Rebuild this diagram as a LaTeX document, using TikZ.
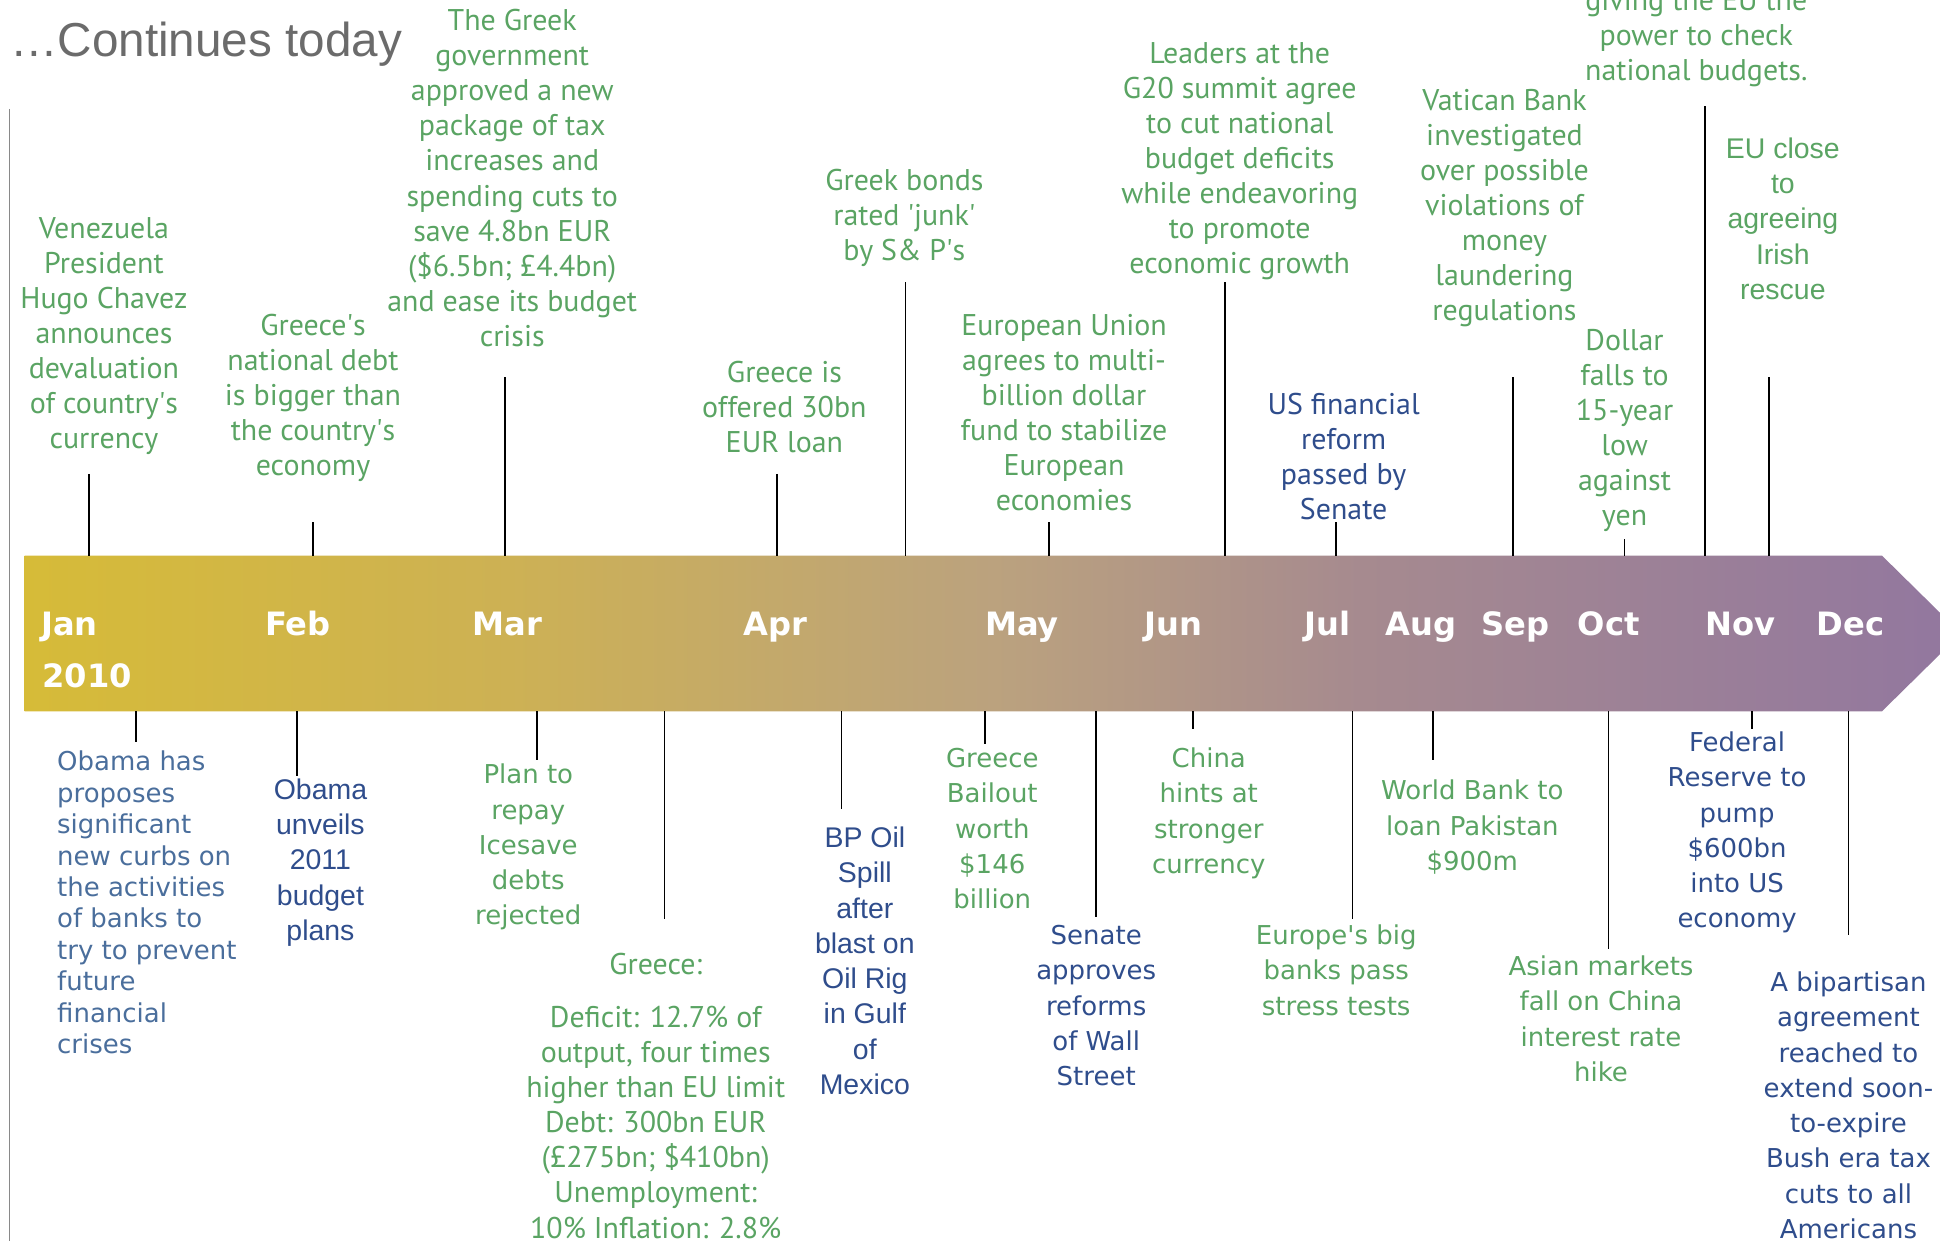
\documentclass[tikz,border=0pt]{standalone}
\usepackage{fontspec}
\newfontfamily\fA{PT Sans}
\newfontfamily\fB{DejaVu Sans}
\newfontfamily\fC{Liberation Sans}
\newcommand\myq{\textquotesingle}
\definecolor{grn}{HTML}{5AA463}
\definecolor{blu}{HTML}{2F4D8C}
\definecolor{blu2}{HTML}{4A6E9C}
\definecolor{ttl}{HTML}{6B6B6B}
\definecolor{c0}{HTML}{D6BB38}
\definecolor{c1}{HTML}{CDB154}
\definecolor{c2}{HTML}{BBA27E}
\definecolor{c3}{HTML}{A68A8F}
\definecolor{c4}{HTML}{92779F}
\pgfdeclarehorizontalshading{bandshade}{100bp}{color(0bp)=(c0); color(25bp)=(c0); color(37.5bp)=(c1); color(50bp)=(c2); color(59.5bp)=(c3); color(75bp)=(c4); color(100bp)=(c4)}
\tikzset{
  txt/.style={inner sep=0pt, anchor=base, align=center},
  ga/.style={txt, font=\fA\fontsize{24.2}{28.3}\selectfont, text=grn},
  gb/.style={txt, font=\fB\fontsize{21}{28.5}\selectfont, text=grn},
  gc/.style={txt, font=\fC\fontsize{23}{28.5}\selectfont, text=grn},
  bb/.style={gb, text=blu},
  bc/.style={gc, text=blu},
  mon/.style={inner sep=0pt, anchor=base west, font=\fB\bfseries\fontsize{26}{30}\selectfont, text=white},
  tick/.style={line width=1.3pt, black},
}
\begin{document}
\begin{tikzpicture}[x=1pt, y=-1pt]
\useasboundingbox (0,0) rectangle (1568,1003);
\clip (0,0) rectangle (1568,1003);
% title and left rule
\node[inner sep=0pt, anchor=base west, font=\fC\fontsize{38.5}{46}\selectfont, text=ttl] (title) at (8,46) {…Continues today};
\coordinate (vl1) at (8,88);
\coordinate (vl2) at (8,1003);
\draw[line width=0.9pt, color=ttl!80] (vl1) -- (vl2);
% band
\coordinate (bandT) at (0,449);
\coordinate (bandB) at (0,575);
\shade[shading=bandshade] (20,449) -- (1521,449) -- (1585,512) -- (1521,575) -- (20,575) -- cycle;
% months
\node[mon] (mJan) at (33,514) {Jan};
\node[mon] (mYear) at (34,556) {2010};
\node[mon] (mFeb) at (214,514) {Feb};
\node[mon] (mMar) at (382,514) {Mar};
\node[mon] (mApr) at (601,514) {Apr};
\node[mon] (mMay) at (796,514) {May};
\node[mon] (mJun) at (925,514) {Jun};
\node[mon] (mJul) at (1054,514) {Jul};
\node[mon] (mAug) at (1120,514) {Aug};
\node[mon] (mSep) at (1197,514) {Sep};
\node[mon] (mOct) at (1275,514) {Oct};
\node[mon] (mNov) at (1378,514) {Nov};
\node[mon] (mDec) at (1468,514) {Dec};
% texts above the band (positions are the baseline of the last line)
\node[ga] (a1) at (84,362.8) {Venezuela\\President\\Hugo Chavez\\announces\\devaluation\\of country\myq s\\currency};
\node[ga] (a2) at (253,384.2) {Greece\myq s\\national debt\\is bigger than\\the country\myq s\\economy};
\node[ga] (a3) at (414,279.7) {The Greek\\government\\approved a new\\package of tax\\increases and\\spending cuts to\\save 4.8bn EUR\\(\$6.5bn; £4.4bn)\\and ease its budget\\crisis};
\node[ga] (a4) at (634,365.6) {Greece is\\offered 30bn\\EUR loan};
\node[ga] (a5) at (731,210.6) {Greek bonds\\rated \myq junk\myq\\by S\& P\myq s};
\node[ga] (a6) at (860,412.5) {European Union\\agrees to multi-\\billion dollar\\fund to stabilize\\European\\economies};
\node[ga] (a7) at (1002,220.8) {Leaders at the\\G20 summit agree\\to cut national\\budget deficits\\while endeavoring\\to promote\\economic growth};
\node[ga, text=blu] (a8) at (1086,419.9) {US financial\\reform\\passed by\\Senate};
\node[ga] (a9) at (1216,258.8) {Vatican Bank\\investigated\\over possible\\violations of\\money\\laundering\\regulations};
\node[ga] (a10) at (1313,424.5) {Dollar\\falls to\\15-year\\low\\against\\yen};
\node[ga] (a11) at (1371,65.1) {giving the EU the\\power to check\\national budgets.};
\node[gc] (a12) at (1441,242) {EU close\\to\\agreeing\\Irish\\rescue};
% texts below the band
\node[txt, align=left, anchor=base west, font=\fB\fontsize{21}{25.4}\selectfont, text=blu2] (b1) at (46,851.6) {Obama has\\proposes\\significant\\new curbs on\\the activities\\of banks to\\try to prevent\\future\\financial\\crises};
\node[bc] (b2) at (259,760) {Obama\\unveils\\2011\\budget\\plans};
\node[gb] (b3) at (427,747.5) {Plan to\\repay\\Icesave\\debts\\rejected};
\node[ga] (b4) at (530,1000.6) {Greece:\\[14.5pt]Deficit: 12.7\% of\\output, four times\\higher than EU limit\\Debt: 300bn EUR\\(£275bn; \$410bn)\\Unemployment:\\10\% Inflation: 2.8\%};
\node[bc] (b5) at (699,884.5) {BP Oil\\Spill\\after\\blast on\\Oil Rig\\in Gulf\\of\\Mexico};
\node[gb] (b6) at (802,734.5) {Greece\\Bailout\\worth\\\$146\\billion};
\node[bb] (b7) at (886,877.5) {Senate\\approves\\reforms\\of Wall\\Street};
\node[gb] (b8) at (977,706) {China\\hints at\\stronger\\currency};
\node[gb] (b9) at (1080,820.5) {Europe\myq s big\\banks pass\\stress tests};
\node[gb] (b10) at (1190,703.5) {World Bank to\\loan Pakistan\\\$900m};
\node[gb] (b11) at (1294,874) {Asian markets\\fall on China\\interest rate\\hike};
\node[bb] (b12) at (1404,750) {Federal\\Reserve to\\pump\\\$600bn\\into US\\economy};
\node[bb] (b13) at (1494,1001) {A bipartisan\\agreement\\reached to\\extend soon-\\to-expire\\Bush era tax\\cuts to all\\Americans};
% ticks above
\coordinate (ta1) at (72,383);
\coordinate (ta2) at (253,422);
\coordinate (ta3) at (408,305);
\coordinate (ta4) at (628,383);
\coordinate (ta5) at (732,228);
\coordinate (ta6) at (848,422);
\coordinate (ta7) at (990,228);
\coordinate (ta8) at (1080,422);
\coordinate (ta9) at (1223,305);
\coordinate (ta10) at (1313,436);
\coordinate (ta11) at (1378,86);
\coordinate (ta12) at (1430,305);
\foreach \i in {1,...,12} {\draw[tick] (ta\i) -- (ta\i |- bandT);}
% ticks below
\coordinate (tb1) at (110,600);
\coordinate (tb2) at (240,627);
\coordinate (tb3) at (434,614);
\coordinate (tb4) at (537,743);
\coordinate (tb5) at (680,654);
\coordinate (tb6) at (796,601);
\coordinate (tb7) at (886,741);
\coordinate (tb8) at (964,589);
\coordinate (tb9) at (1093,743);
\coordinate (tb10) at (1158,614);
\coordinate (tb11) at (1300,767);
\coordinate (tb12) at (1416,589);
\coordinate (tb13) at (1494,756);
\foreach \i in {1,...,13} {\draw[tick] (tb\i |- bandB) -- (tb\i);}
\end{tikzpicture}
\end{document}
